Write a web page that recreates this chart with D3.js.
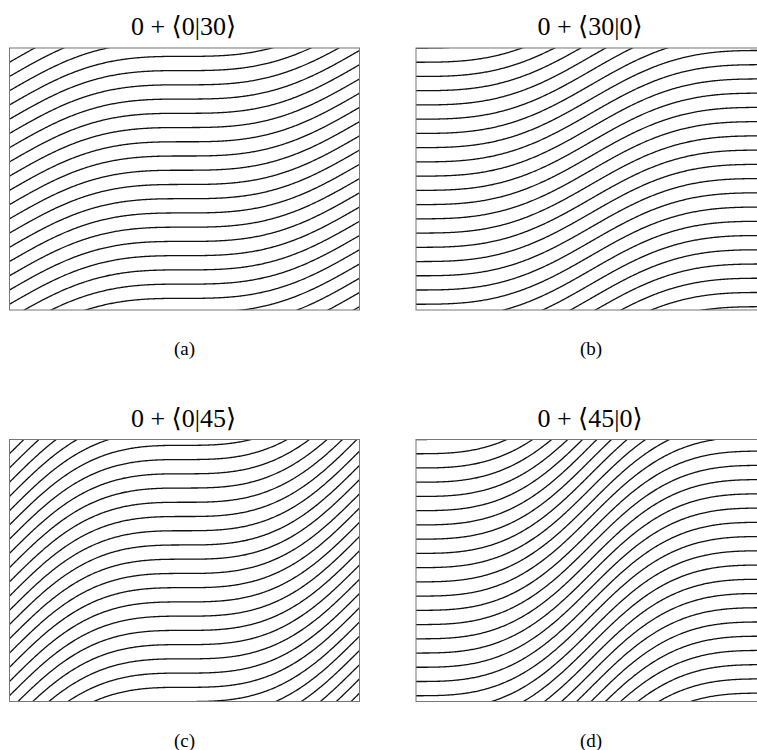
<!DOCTYPE html>
<html>
<head>
<meta charset="utf-8">
<script src="https://cdn.jsdelivr.net/npm/d3@7"></script>
<style>
  body { margin: 0; background: #fff; }
  text { font-family: "Liberation Serif", serif; fill: #000; }
  .br { font-family: "DejaVu Serif", serif; }
</style>
</head>
<body>
<svg id="chart" width="757" height="750"></svg>
<script>
// panel data: title, caption, angles (degrees) at centre and at side edges
var titles = ["0 + \u27E80|30\u27E9", "0 + \u27E830|0\u27E9", "0 + \u27E80|45\u27E9", "0 + \u27E845|0\u27E9"];
var captions = ["(a)", "(b)", "(c)", "(d)"];
var baseAngle = [0, 0, 0, 0];
var centreAngle = [0, 30, 0, 45];
var edgeAngle = [30, 0, 45, 0];
// field extent and distance between stream lines, in field units
var fieldX = [0, 4];
var fieldY = [0, 3];
var lineSpacing = 0.163;

var svg = d3.select("#chart");
var W = 350, H = 262;
var colX = [9.5, 416];
var rowY = [48, 439.5];

function angleAt(i, x) {
  var u = (x - fieldX[0]) / (fieldX[1] - fieldX[0]);
  var s = Math.sin(Math.PI * u);
  return baseAngle[i] + edgeAngle[i] + (centreAngle[i] - edgeAngle[i]) * s * s;
}

titles.forEach(function(t, i) {
  var px = colX[i % 2], py = rowY[Math.floor(i / 2)];
  var g = svg.append("g").attr("transform", "translate(" + px + "," + py + ")");

  var x = d3.scaleLinear().domain(fieldX).range([0, W]);
  var y = d3.scaleLinear().domain(fieldY).range([H, 0]);

  // integrate slope tan(theta) along x
  var n = 300, dx = (fieldX[1] - fieldX[0]) / n;
  var rise = [{x: fieldX[0], r: 0}];
  for (var j = 1; j <= n; j++) {
    var x0 = fieldX[0] + (j - 1) * dx, x1 = x0 + dx;
    var a0 = Math.tan(angleAt(i, x0) * Math.PI / 180);
    var a1 = Math.tan(angleAt(i, x1) * Math.PI / 180);
    rise.push({x: x1, r: rise[j - 1].r + (a0 + a1) / 2 * dx});
  }
  var total = rise[n].r;

  var offsets = [];
  for (var k = 0; fieldY[1] - k * lineSpacing + total >= fieldY[0] - lineSpacing; k++) {
    offsets.push(fieldY[1] - k * lineSpacing);
  }

  var clipId = "clip" + i;
  g.append("clipPath").attr("id", clipId)
    .append("rect").attr("width", W).attr("height", H);

  var line = d3.line()
    .x(function(d) { return x(d.x); })
    .y(function(d) { return y(d.y); });

  g.append("g").attr("clip-path", "url(#" + clipId + ")")
    .selectAll("path")
    .data(offsets)
    .enter().append("path")
    .attr("d", function(c) {
      return line(rise.map(function(p) { return {x: p.x, y: c + p.r}; }));
    })
    .attr("fill", "none")
    .attr("stroke", "#111")
    .attr("stroke-width", 1.3);

  g.append("rect")
    .attr("width", W).attr("height", H)
    .attr("fill", "none")
    .attr("stroke", "#777")
    .attr("stroke-width", 1);

  // title: brackets set in a font that has them, the rest in the serif
  var title = g.append("text")
    .attr("x", W / 2 - 1).attr("y", -13)
    .attr("text-anchor", "middle")
    .attr("font-size", "26px");
  t.split(/([\u27E8\u27E9])/).filter(function(s) { return s.length; }).forEach(function(s) {
    title.append("tspan")
      .attr("class", /[\u27E8\u27E9]/.test(s) ? "br" : null)
      .text(s);
  });

  g.append("text")
    .attr("x", W / 2).attr("y", H + 45)
    .attr("text-anchor", "middle")
    .attr("font-size", "19px")
    .text(captions[i]);
});
</script>
</body>
</html>
